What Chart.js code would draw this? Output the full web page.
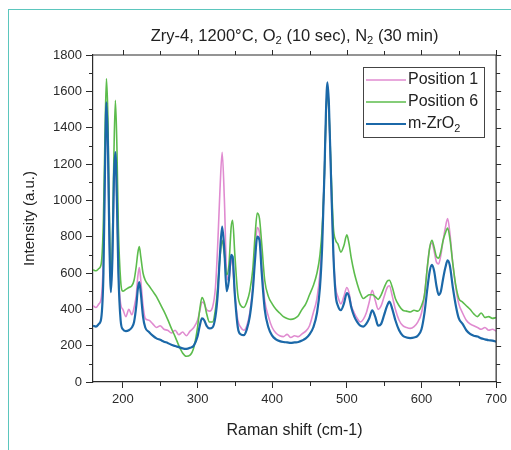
<!DOCTYPE html>
<html>
<head>
<meta charset="utf-8">
<script src="https://cdn.jsdelivr.net/npm/chart.js@4.4.0/dist/chart.umd.min.js"></script>
<style>
html, body { margin: 0; padding: 0; background: #fff; overflow: hidden; }
#wrap { position: relative; width: 511px; height: 450px; overflow: hidden; }
#frame { position: absolute; left: 8px; top: 9px; width: 600px; height: 600px; border: 1.5px solid #5bc6bd; }
canvas { position: absolute; left: 0; top: 0; }
</style>
</head>
<body>
<div id="wrap"><div id="frame"></div><canvas id="chart_raman" width="511" height="450"></canvas></div>
<script>
// Raman shift (cm-1)
var shift = [
    160, 164, 168, 171, 174, 176, 178, 180, 182, 184,
    186, 188, 190, 192, 194, 197, 200, 204, 208, 212,
    215, 218, 220, 222, 224, 227, 230, 235, 240, 245,
    250, 255, 260, 265, 270, 275, 280, 285, 290, 295,
    300, 303, 306, 309, 312, 316, 320, 324, 327, 330,
    333, 336, 339, 342, 345, 347, 350, 354, 358, 362,
    366, 370, 374, 377, 380, 383, 386, 390, 395, 400,
    405, 410, 415, 420, 425, 430, 435, 440, 445, 450,
    455, 460, 464, 467, 470, 472, 474, 476, 479, 482,
    485, 488, 492, 496, 500, 503, 506, 510, 514, 518,
    522, 526, 530, 534, 538, 542, 546, 550, 554, 557,
    561, 565, 570, 575, 580, 585, 590, 595, 600, 604,
    608, 611, 614, 617, 620, 623, 626, 629, 632, 635,
    638, 642, 646, 650, 655, 660, 665, 670, 675, 680,
    685, 690, 695, 700
];
var position1 = [
    420, 410, 430, 460, 700, 1150, 1480, 1250, 780, 520,
    700, 1050, 1230, 1000, 620, 430, 400, 360, 400, 370,
    410, 480, 580, 630, 560, 420, 350, 340, 320, 300,
    310, 290, 285, 270, 285, 260, 275, 255, 280, 300,
    340, 390, 440, 430, 400, 390, 410, 520, 750, 1050,
    1265, 1000, 600, 560, 680, 640, 480, 340, 300, 285,
    310, 380, 520, 700, 850, 820, 640, 450, 360, 300,
    270, 255, 250, 262, 245, 255, 250, 265, 280, 310,
    380, 460, 600, 800, 1150, 1450, 1630, 1500, 1100, 700,
    520, 470, 430, 470, 520, 490, 420, 380, 350, 330,
    345, 380, 440, 505, 450, 400, 420, 470, 520, 530,
    470, 400, 340, 310, 300, 295, 305, 330, 380, 480,
    640, 740, 765, 720, 660, 650, 700, 780, 850, 900,
    820, 650, 520, 430, 380, 340, 320, 310, 300, 290,
    300, 285, 290, 280
];
var position6 = [
    618, 612, 625, 650, 900, 1350, 1670, 1450, 900, 580,
    760, 1250, 1550, 1300, 850, 560, 500, 510, 520, 530,
    560, 640, 710, 745, 690, 600, 560, 530, 500, 470,
    430, 390, 345, 295, 250, 200, 160, 142, 148, 190,
    300, 400, 465, 440, 380, 330, 330, 400, 520, 680,
    780, 700, 590, 640, 850, 890, 700, 480, 420, 410,
    440, 500, 620, 800, 930, 900, 760, 560, 470, 430,
    400, 380, 360, 350, 345, 350, 365, 400, 430, 480,
    530, 600, 700, 850, 1150, 1450, 1620, 1500, 1150, 850,
    780, 760, 715, 750, 810, 760, 680, 600, 540, 490,
    460, 470, 480, 480, 470, 455, 480, 520, 555, 560,
    520, 460, 420, 395, 390, 385, 395, 390, 420, 480,
    640, 740, 780, 740, 690, 682, 720, 780, 820, 847,
    790, 650, 530, 460, 440, 420, 400, 375, 360, 380,
    355, 360, 350, 355
];
var mZrO2 = [
    310, 305, 320, 350, 600, 1150, 1540, 1300, 760, 495,
    680, 1120, 1265, 1000, 600, 340, 290, 280, 285, 300,
    330, 420, 510, 550, 490, 360, 300, 275, 255, 240,
    232, 222, 215, 205, 198, 192, 185, 182, 188, 200,
    250, 310, 350, 340, 310, 295, 300, 360, 480, 700,
    855, 720, 500, 560, 700, 690, 480, 300, 262, 258,
    290, 360, 500, 670, 800, 780, 600, 400, 300, 255,
    235, 225, 220, 218, 215, 218, 220, 228, 240, 262,
    300, 380, 520, 750, 1150, 1480, 1650, 1530, 1100, 700,
    480, 420, 395, 430, 490, 470, 410, 360, 330, 310,
    305, 320, 350, 395, 360, 310, 320, 370, 420, 442,
    400, 340, 285, 255, 245, 242, 245, 255, 290, 380,
    520, 610, 645, 610, 530, 480, 500, 570, 630, 670,
    640, 520, 420, 350, 320, 285, 265, 255, 250, 240,
    235, 230, 228, 222
];
var xTicks = [200, 300, 400, 500, 600, 700];
var xMinor = [250, 350, 450, 550, 650];
var yTicks = [0, 200, 400, 600, 800, 1000, 1200, 1400, 1600, 1800];
var yMinor = [100, 300, 500, 700, 900, 1100, 1300, 1500, 1700];

function pairs(ys) {
    return shift.map(function (x, i) { return { x: x, y: ys[i] }; });
}

var AXIS = '#2b2b2b';
var FONT = "'Liberation Sans', Arial, sans-serif";

// title with subscripts, drawn above the plot area
var titleParts = [['Zry-4, 1200°C, O', 0], ['2', 1], [' (10 sec), N', 0], ['2', 1], [' (30 min)', 0]];
var legendParts = {
    'm-ZrO2': [['m-ZrO', 0], ['2', 1]]
};

function drawRich(ctx, parts, x, y, size, align) {
    var w = 0;
    parts.forEach(function (p) {
        ctx.font = (p[1] ? size * 0.68 : size) + 'px ' + FONT;
        w += ctx.measureText(p[0]).width;
    });
    var cx = align === 'center' ? x - w / 2 : x;
    parts.forEach(function (p) {
        ctx.font = (p[1] ? size * 0.68 : size) + 'px ' + FONT;
        ctx.fillText(p[0], cx, y + (p[1] ? size * 0.3 : 0));
        cx += ctx.measureText(p[0]).width;
    });
}

var framePlugin = {
    id: 'frameTicks',
    afterDraw: function (chart) {
        var ctx = chart.ctx, a = chart.chartArea, x = chart.scales.x, y = chart.scales.y;
        ctx.save();
        ctx.strokeStyle = AXIS;
        ctx.lineWidth = 1.2;
        ctx.beginPath();
        ctx.moveTo(a.left, a.top); ctx.lineTo(a.right, a.top); ctx.lineTo(a.right, a.bottom);
        ctx.stroke();
        ctx.lineWidth = 1;
        ctx.beginPath();
        xTicks.forEach(function (v) {
            var px = Math.round(x.getPixelForValue(v)) + 0.5;
            ctx.moveTo(px, a.top); ctx.lineTo(px, a.top - 5);
        });
        xMinor.forEach(function (v) {
            var px = Math.round(x.getPixelForValue(v)) + 0.5;
            ctx.moveTo(px, a.bottom); ctx.lineTo(px, a.bottom + 4);
            ctx.moveTo(px, a.top); ctx.lineTo(px, a.top - 4);
        });
        yTicks.forEach(function (v) {
            var py = Math.round(y.getPixelForValue(v)) + 0.5;
            ctx.moveTo(a.right, py); ctx.lineTo(a.right + 5, py);
        });
        yMinor.forEach(function (v) {
            var py = Math.round(y.getPixelForValue(v)) + 0.5;
            ctx.moveTo(a.left, py); ctx.lineTo(a.left - 4, py);
            ctx.moveTo(a.right, py); ctx.lineTo(a.right + 4, py);
        });
        ctx.stroke();

        // title
        ctx.fillStyle = '#222';
        ctx.textBaseline = 'middle';
        ctx.textAlign = 'left';
        drawRich(ctx, titleParts, (a.left + a.right) / 2, 36, 16.5, 'center');

        // legend box
        var bx = 363, by = 67, bw = 121, bh = 70;
        ctx.fillStyle = '#fff';
        ctx.fillRect(bx, by, bw, bh);
        ctx.strokeStyle = '#444';
        ctx.lineWidth = 1;
        ctx.strokeRect(bx + 0.5, by + 0.5, bw, bh);
        chart.data.datasets.forEach(function (ds, i) {
            var ly = 80 + i * 22;
            ctx.strokeStyle = ds.borderColor;
            ctx.lineWidth = ds.borderWidth;
            ctx.beginPath(); ctx.moveTo(366, ly); ctx.lineTo(406, ly); ctx.stroke();
            ctx.fillStyle = '#222';
            drawRich(ctx, legendParts[ds.label] || [[ds.label, 0]], 408, ly, 16, 'left');
        });
        ctx.restore();
    }
};

var chart_raman = new Chart(document.getElementById('chart_raman'), {
    type: 'line',
    data: {
        datasets: [
            { label: 'Position 1', data: pairs(position1), borderColor: '#e08bd0', borderWidth: 1.6, order: 2 },
            { label: 'Position 6', data: pairs(position6), borderColor: '#5cbc4c', borderWidth: 1.6, order: 1 },
            { label: 'm-ZrO2', data: pairs(mZrO2), borderColor: '#1b68a8', borderWidth: 2.2, order: 0 }
        ]
    },
    options: {
        animation: false,
        responsive: false,
        events: [],
        elements: {
            point: { radius: 0 },
            line: { cubicInterpolationMode: 'monotone', fill: false }
        },
        layout: { padding: { left: 0, top: 55, right: 12, bottom: 0 } },
        plugins: {
            legend: { display: false },
            title: { display: false },
            tooltip: { enabled: false }
        },
        scales: {
            x: {
                type: 'linear',
                min: 160,
                max: 700,
                afterBuildTicks: function (s) { s.ticks = xTicks.map(function (v) { return { value: v }; }); },
                afterFit: function (s) { s.height = 68; },
                ticks: {
                    color: AXIS, font: { family: FONT, size: 13 }, padding: 4, maxRotation: 0, autoSkip: false,
                    callback: function (value) { return String(value); }
                },
                grid: { drawOnChartArea: false, drawTicks: true, tickLength: 6, color: AXIS },
                border: { color: AXIS, width: 1.2 },
                title: { display: true, text: 'Raman shift (cm-1)', color: '#222', font: { family: FONT, size: 16 }, padding: { top: 0, bottom: 10 } }
            },
            y: {
                min: 0,
                max: 1800,
                afterBuildTicks: function (s) { s.ticks = yTicks.map(function (v) { return { value: v }; }); },
                afterFit: function (s) { s.width = 93; },
                ticks: {
                    color: AXIS, font: { family: FONT, size: 13 }, padding: 4,
                    callback: function (value) { return String(value); }
                },
                grid: { drawOnChartArea: false, drawTicks: true, tickLength: 7, color: AXIS },
                border: { color: AXIS, width: 1.2 },
                title: { display: true, text: 'Intensity (a.u.)', color: '#222', font: { family: FONT, size: 15 }, padding: { top: 21, bottom: 0 } }
            }
        }
    },
    plugins: [framePlugin]
});
</script>
</body>
</html>
